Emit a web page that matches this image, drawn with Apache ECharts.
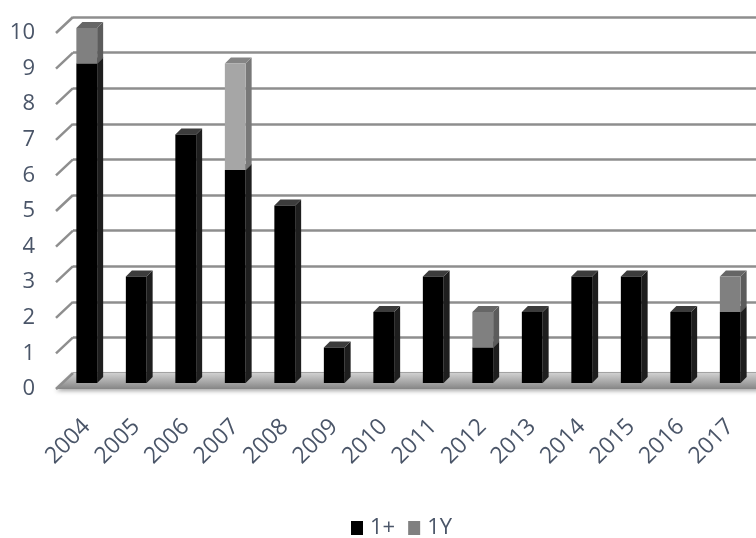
<!DOCTYPE html>
<html>
<head>
<meta charset="utf-8">
<style>
  html, body { margin: 0; padding: 0; background: #ffffff; }
  #chart { width: 756px; height: 538px; }
</style>
<script src="https://cdn.jsdelivr.net/npm/echarts@6/dist/echarts.min.js"></script>
</head>
<body>
<div id="chart"></div>
<script>
// Yearly counts, split into the two groups
const years = ['2004','2005','2006','2007','2008','2009','2010','2011','2012','2013','2014','2015','2016','2017'];
const plusCounts = [9, 3, 7, 6, 5, 1, 2, 3, 1, 2, 3, 3, 2, 2];
const yCounts    = [1, 0, 0, 3, 0, 0, 0, 0, 1, 0, 0, 0, 0, 1];
const yTicks = [0, 1, 2, 3, 4, 5, 6, 7, 8, 9, 10];

const FONT = '"Open Sans", "Liberation Sans", sans-serif';
const TEXT_COLOR = '#4a5568';
const GRID_COLOR = '#8e8e8e';
const DEPTH = 6;          // bar depth in px
const WALL_DX = 17, WALL_DY = -16; // offset from front edge to back wall

function shade(hex, f) {
  const n = parseInt(hex.slice(1), 16);
  const r = Math.round(((n >> 16) & 255) * f);
  const g = Math.round(((n >> 8) & 255) * f);
  const b = Math.round((n & 255) * f);
  return 'rgb(' + r + ',' + g + ',' + b + ')';
}

// stacked segments: [category, base, top]
const plusData = plusCounts.map((v, i) => ({ value: [i, 0, v] }));
const yData = yCounts.map((v, i) => ({
  value: [i, plusCounts[i], plusCounts[i] + v],
  itemStyle: { color: i === 3 ? '#a6a6a6' : '#808080' }
}));

function renderBar(params, api) {
  const i = api.value(0), lo = api.value(1), hi = api.value(2);
  if (hi <= lo) return null;
  const pLo = api.coord([i, lo]);
  const pHi = api.coord([i, hi]);
  const w = api.size([1, 0])[0] * 0.42;
  const x0 = pLo[0] - w / 2, x1 = pLo[0] + w / 2;
  const yb = pLo[1], yt = pHi[1];
  const col = api.visual('color');
  const isBlack = col === '#000000' || col === '#000';
  const sideCol = isBlack ? '#1e1e1e' : shade(col, 0.72);
  const topCol = isBlack ? '#3c3c3c' : shade(col, 0.8);
  return {
    type: 'group',
    children: [
      { type: 'polygon', shape: { points: [[x1, yb], [x1, yt], [x1 + DEPTH, yt - DEPTH], [x1 + DEPTH, yb - DEPTH]] },
        style: { fill: sideCol } },
      { type: 'polygon', shape: { points: [[x0, yt], [x1, yt], [x1 + DEPTH, yt - DEPTH], [x0 + DEPTH, yt - DEPTH]] },
        style: { fill: topCol } },
      { type: 'rect', shape: { x: x0, y: yt, width: w, height: yb - yt }, style: { fill: col } }
    ]
  };
}

// diagonal tick lines linking labels to back wall gridlines
function renderDiagonal(params, api) {
  const p = api.coord([0, api.value(0)]);
  return {
    type: 'line',
    shape: { x1: p[0], y1: p[1], x2: p[0] + WALL_DX, y2: p[1] + WALL_DY },
    style: { stroke: GRID_COLOR, lineWidth: 2.5 }
  };
}

// shaded floor of the plot
function renderFloor(params, api) {
  const a = api.coord([0, 0]);
  const b = api.coord([1, 0]);
  return {
    type: 'polygon',
    shape: { points: [[a[0], a[1]], [a[0] + WALL_DX, a[1] + WALL_DY], [b[0] + WALL_DX + 20, b[1] + WALL_DY], [b[0] + 20, b[1]]] },
    style: {
      fill: new echarts.graphic.LinearGradient(0, 0, 0, 1, [
        { offset: 0, color: '#d0d0d0' },
        { offset: 0.6, color: '#a4a4a4' },
        { offset: 1, color: '#858585' }
      ]),
      shadowBlur: 4, shadowColor: 'rgba(0,0,0,0.35)', shadowOffsetY: 2
    }
  };
}

const chart = echarts.init(document.getElementById('chart'), null, { renderer: 'canvas' });

chart.setOption({
  animation: false,
  backgroundColor: '#ffffff',
  textStyle: { fontFamily: FONT },
  legend: {
    top: 512,
    left: 346,
    itemWidth: 12,
    itemHeight: 14,
    itemGap: 13,
    icon: 'rect',
    textStyle: { fontSize: 22, color: TEXT_COLOR, fontFamily: FONT, padding: [0, 0, 0, 2] },
    data: ['1+', '1Y']
  },
  grid: [
    { left: 73, right: 0, top: 17, height: 356 },   // back wall
    { left: 62, width: 693, top: 28, height: 355 }, // bars
    { left: 56, width: 683, top: 33, height: 356 }  // front edge
  ],
  xAxis: [
    { gridIndex: 0, type: 'value', min: 0, max: 1, show: false },
    {
      gridIndex: 1, type: 'category', data: years,
      axisLine: { show: false }, axisTick: { show: false },
      axisLabel: { rotate: 45, fontSize: 23, color: TEXT_COLOR, margin: 40, interval: 0, fontFamily: FONT }
    },
    { gridIndex: 2, type: 'value', min: 0, max: 1, show: false }
  ],
  yAxis: [
    {
      gridIndex: 0, type: 'value', min: 0, max: 10, interval: 1,
      axisLine: { show: false }, axisTick: { show: false }, axisLabel: { show: false },
      splitLine: { show: true, lineStyle: { color: GRID_COLOR, width: 2.5 } }
    },
    { gridIndex: 1, type: 'value', min: 0, max: 10, show: false },
    {
      gridIndex: 2, type: 'value', min: 0, max: 10, interval: 1,
      axisLine: { show: false }, axisTick: { show: false }, splitLine: { show: false },
      axisLabel: { fontSize: 22, color: TEXT_COLOR, margin: 21, fontFamily: FONT }
    }
  ],
  series: [
    {
      name: 'floor', type: 'custom', xAxisIndex: 2, yAxisIndex: 2,
      renderItem: renderFloor, data: [[0]], silent: true, z: 1
    },
    {
      name: 'ticks', type: 'custom', xAxisIndex: 2, yAxisIndex: 2,
      renderItem: renderDiagonal, data: yTicks.map(v => [v]), silent: true, z: 1
    },
    {
      name: '1+', type: 'custom', xAxisIndex: 1, yAxisIndex: 1,
      itemStyle: { color: '#000000' },
      renderItem: renderBar, data: plusData, z: 3,
      encode: { x: 0, y: [1, 2] }
    },
    {
      name: '1Y', type: 'custom', xAxisIndex: 1, yAxisIndex: 1,
      itemStyle: { color: '#808080' },
      renderItem: renderBar, data: yData, z: 3,
      encode: { x: 0, y: [1, 2] }
    }
  ]
});
</script>
</body>
</html>
